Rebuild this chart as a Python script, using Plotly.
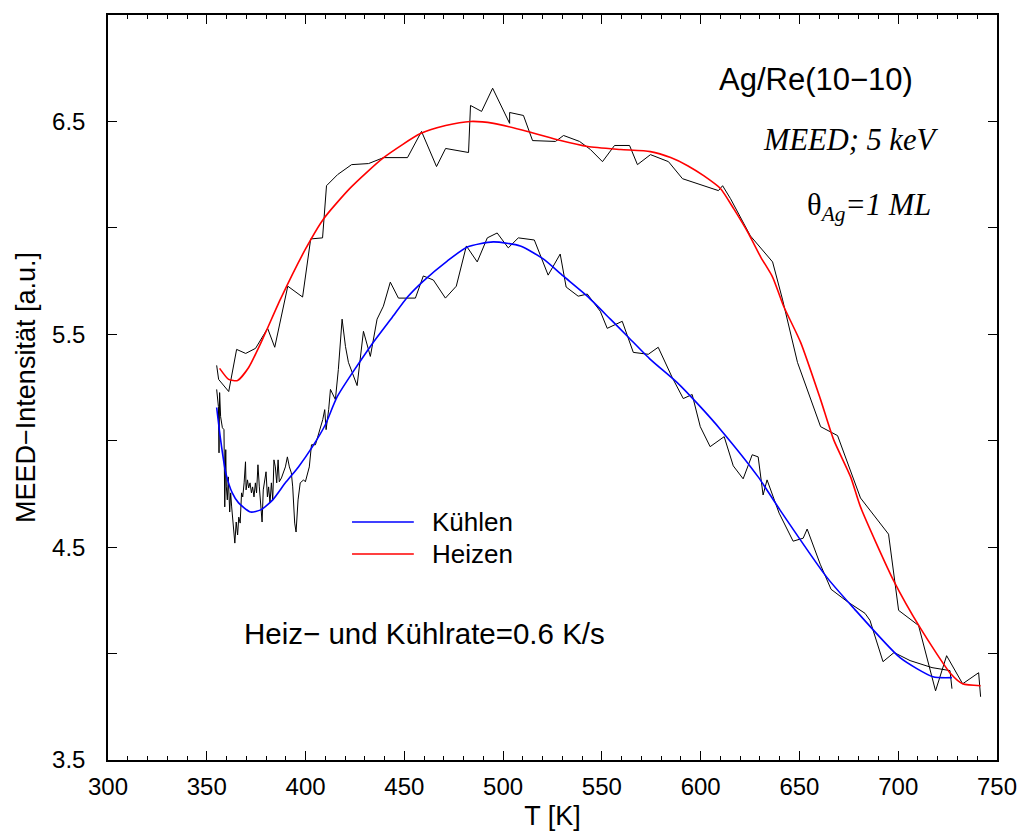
import plotly.graph_objects as go

# ---------------- data ----------------
# Heating run: measured MEED intensity
heat_T = [355.0, 356.0, 361.1, 365.1, 369.7, 374.7, 380.8, 384.4, 391.0, 398.5,
          402.6, 408.6, 410.6, 416.2, 423.3, 431.9, 439.5, 451.6, 458.7, 466.3,
          470.9, 482.5, 483.5, 489.1, 494.7, 503.3, 503.3, 510.3, 514.9, 526.5,
          530.6, 538.7, 544.2, 550.3, 556.4, 564.0, 568.0, 574.6, 583.7, 590.8,
          609.0, 611.1, 615.1, 625.2, 636.4, 641.4, 649.0, 660.7, 669.3, 680.9,
          695.1, 700.2, 710.3, 718.9, 724.5, 732.6, 740.7, 741.7]
heat_I = [5.354, 5.288, 5.231, 5.429, 5.410, 5.434, 5.528, 5.439, 5.726, 5.675,
          5.948, 5.953, 6.198, 6.250, 6.297, 6.302, 6.330, 6.330, 6.453, 6.288,
          6.373, 6.354, 6.575, 6.547, 6.656, 6.491, 6.542, 6.528, 6.410, 6.406,
          6.434, 6.406, 6.368, 6.311, 6.387, 6.387, 6.297, 6.344, 6.311, 6.231,
          6.175, 6.198, 6.137, 5.962, 5.840, 5.665, 5.368, 5.066, 5.024, 4.731,
          4.561, 4.203, 4.132, 3.825, 3.990, 3.858, 3.910, 3.797]

# Heating run: smooth fit
heat_fit_T = [356.5, 361.1, 365.6, 371.2, 378.2, 387.3, 400.0, 409.1, 422.8, 439.5,
              458.2, 470.9, 483.5, 495.2, 512.4, 529.1, 542.8, 559.5, 574.6, 584.8,
              593.4, 601.5, 610.1, 616.7, 624.3, 630.4, 636.4, 642.0, 650.6, 660.7,
              667.3, 675.9, 680.9, 697.6, 711.3, 726.5, 732.6, 741.7]
heat_fit_I = [5.340, 5.288, 5.283, 5.344, 5.476, 5.665, 5.901, 6.042, 6.189, 6.330,
              6.443, 6.481, 6.500, 6.491, 6.453, 6.410, 6.382, 6.368, 6.358, 6.330,
              6.292, 6.245, 6.184, 6.090, 5.972, 5.863, 5.769, 5.632, 5.462, 5.193,
              5.005, 4.830, 4.689, 4.344, 4.118, 3.906, 3.858, 3.849]

# Cooling run: measured MEED intensity
cool_T = [355.0, 355.9, 356.2, 356.5, 357.0, 357.9, 358.7, 359.1, 359.6, 359.9,
          360.4, 360.9, 361.6, 362.1, 362.6, 363.2, 363.7, 364.2, 364.9, 365.6,
          366.2, 366.9, 367.6, 368.2, 368.9, 369.6, 369.9, 370.6, 371.2, 371.9,
          372.6, 373.2, 373.9, 374.6, 375.2, 375.9, 376.6, 377.3, 378.0, 378.6,
          379.3, 380.0, 380.7, 381.3, 382.0, 382.7, 383.4, 384.0, 384.7, 385.4,
          386.1, 386.7, 387.8, 388.9, 389.8, 390.8, 391.8, 392.8, 393.5, 394.5,
          395.2, 396.2, 397.3, 399.0, 399.9, 401.9, 403.0, 405.0, 406.4, 407.5,
          408.7, 409.7, 410.4, 411.7, 412.6, 415.1, 416.6, 418.5, 420.2, 421.7,
          426.1, 429.3, 432.8, 436.2, 439.4, 442.9, 447.0, 455.6, 459.6, 464.7,
          470.8, 476.3, 481.4, 486.9, 492.0, 497.0, 502.6, 507.7, 515.8, 522.8,
          528.9, 531.9, 538.0, 542.6, 549.2, 552.7, 560.3, 565.9, 573.5, 578.5,
          585.6, 591.2, 595.7, 599.8, 604.8, 611.9, 616.5, 621.5, 626.1, 629.1,
          631.6, 633.6, 639.7, 646.8, 651.9, 653.9, 660.5, 666.0, 674.1, 683.2,
          685.7, 692.3, 697.9, 706.0, 717.1, 726.2, 727.2]
cool_I = [5.241, 5.160, 4.943, 5.226, 5.113, 5.061, 5.052, 4.689, 4.958, 4.783,
          4.722, 4.830, 4.665, 4.755, 4.689, 4.627, 4.566, 4.519, 4.618, 4.557,
          4.641, 4.613, 4.755, 4.736, 4.802, 4.901, 4.769, 4.816, 4.778, 4.802,
          4.755, 4.783, 4.736, 4.802, 4.755, 4.887, 4.783, 4.675, 4.618, 4.769,
          4.816, 4.854, 4.736, 4.783, 4.708, 4.802, 4.722, 4.910, 4.877, 4.802,
          4.910, 4.807, 4.825, 4.849, 4.877, 4.924, 4.877, 4.849, 4.783, 4.613,
          4.571, 4.722, 4.802, 4.816, 4.807, 4.877, 4.981, 4.981, 5.028, 5.066,
          5.099, 5.146, 5.052, 5.146, 5.241, 5.193, 5.335, 5.571, 5.443, 5.368,
          5.259, 5.514, 5.396, 5.571, 5.632, 5.745, 5.670, 5.670, 5.774, 5.755,
          5.670, 5.726, 5.915, 5.840, 5.953, 5.976, 5.906, 5.953, 5.943, 5.778,
          5.877, 5.722, 5.679, 5.689, 5.608, 5.528, 5.561, 5.415, 5.406, 5.439,
          5.297, 5.198, 5.217, 5.066, 4.972, 5.019, 4.882, 4.821, 4.934, 4.924,
          4.745, 4.816, 4.660, 4.528, 4.542, 4.585, 4.420, 4.302, 4.245, 4.189,
          4.156, 3.962, 4.005, 3.967, 3.934, 3.920, 3.835]

# Cooling run: smooth fit
cool_fit_T = [355.0, 357.0, 359.6, 362.9, 366.1, 372.2, 377.3, 383.4, 389.8, 396.4,
              403.5, 410.0, 416.1, 432.8, 443.9, 451.6, 459.6, 471.7, 481.9, 495.0,
              508.7, 520.3, 530.4, 542.6, 554.3, 562.9, 574.5, 588.0, 599.8, 610.1,
              629.1, 640.2, 663.9, 677.1, 700.9, 717.6, 727.2]
cool_fit_I = [5.156, 5.005, 4.849, 4.755, 4.708, 4.665, 4.675, 4.722, 4.802, 4.877,
              4.972, 5.075, 5.208, 5.443, 5.580, 5.675, 5.750, 5.844, 5.910, 5.934,
              5.915, 5.854, 5.774, 5.679, 5.571, 5.491, 5.382, 5.274, 5.160, 5.052,
              4.830, 4.674, 4.358, 4.217, 3.981, 3.891, 3.887]

x_tick_vals = [300, 350, 400, 450, 500, 550, 600, 650, 700, 750]
y_tick_vals = [3.5, 4.5, 5.5, 6.5]
y_tick_text = ["3.5", "4.5", "5.5", "6.5"]

SANS = "Liberation Sans, Arial, Helvetica, sans-serif"
SERIF = "Liberation Serif, Times New Roman, serif"

fig = go.Figure()
fig.add_trace(go.Scatter(x=heat_T, y=heat_I, mode="lines", name="Heizen (Messung)",
                         line=dict(color="black", width=1), showlegend=False))
fig.add_trace(go.Scatter(x=cool_T, y=cool_I, mode="lines", name="Kühlen (Messung)",
                         line=dict(color="black", width=1), showlegend=False))
fig.add_trace(go.Scatter(x=cool_fit_T, y=cool_fit_I, mode="lines", name="Kühlen",
                         line=dict(color="#0000ff", width=1.6, shape="spline", smoothing=0.6),
                         showlegend=False))
fig.add_trace(go.Scatter(x=heat_fit_T, y=heat_fit_I, mode="lines", name="Heizen",
                         line=dict(color="#ff0000", width=1.6, shape="spline", smoothing=0.6),
                         showlegend=False))

# Legend (drawn manually to match the long line samples)
legend_items = [("Kühlen", "#0000ff", 0.3195), ("Heizen", "#ff0000", 0.2765)]
for label, color, ypos in legend_items:
    fig.add_shape(type="line", xref="paper", yref="paper",
                  x0=0.2745, x1=0.344, y0=ypos, y1=ypos,
                  line=dict(color=color, width=1.6))
    fig.add_annotation(text=label, xref="paper", yref="paper", x=0.362, y=ypos,
                       xanchor="left", yanchor="middle", showarrow=False,
                       font=dict(family=SANS, size=26, color="black"))

fig.add_annotation(text="Ag/Re(10−10)", xref="paper", yref="paper", x=0.685, y=0.913,
                   xanchor="left", yanchor="middle", showarrow=False,
                   font=dict(family=SANS, size=31, color="black"))
fig.add_annotation(text="<i>MEED; 5 keV</i>", xref="paper", yref="paper", x=0.735, y=0.832,
                   xanchor="left", yanchor="middle", showarrow=False,
                   font=dict(family=SERIF, size=30.5, color="black"))
fig.add_annotation(text="θ<sub><i>Ag</i></sub><i>=1 ML</i>", xref="paper", yref="paper",
                   x=0.784, y=0.742, xanchor="left", yanchor="middle", showarrow=False,
                   font=dict(family=SERIF, size=30.5, color="black"))
fig.add_annotation(text="Heiz− und Kühlrate=0.6 K/s", xref="paper", yref="paper",
                   x=0.151, y=0.170, xanchor="left", yanchor="middle", showarrow=False,
                   font=dict(family=SANS, size=29.5, color="black"))

fig.update_layout(
    width=1024, height=831,
    margin=dict(l=108, r=27, t=15, b=71),
    paper_bgcolor="white", plot_bgcolor="white",
    font=dict(family=SANS, size=24, color="black"),
    showlegend=False,
)
fig.update_xaxes(
    range=[300, 750], tickvals=x_tick_vals, ticks="inside", ticklen=9, tickwidth=1,
    tickcolor="black", showline=True, linecolor="black", linewidth=1.5, mirror="ticks",
    showgrid=False, zeroline=False, tickfont=dict(family=SANS, size=24),
    minor=dict(dtick=10, tick0=300, ticks="inside", ticklen=4, tickwidth=1, tickcolor="black",
               showgrid=False),
    title=dict(text="T [K]", font=dict(family=SANS, size=27), standoff=11),
    ticklabelstandoff=4, automargin=False,
)
fig.update_yaxes(
    range=[3.5, 7.0], tickvals=y_tick_vals, ticktext=y_tick_text, ticks="inside",
    ticklen=9, tickwidth=1, tickcolor="black", showline=True, linecolor="black",
    linewidth=1.5, mirror="ticks", showgrid=False, zeroline=False,
    tickfont=dict(family=SANS, size=24),
    minor=dict(dtick=0.5, tick0=3.5, ticks="inside", ticklen=9, tickwidth=1,
               tickcolor="black", showgrid=False),
    title=dict(text="MEED−Intensität [a.u.]", font=dict(family=SANS, size=27), standoff=9),
    ticklabelstandoff=16, automargin=False,
)

fig.write_html("out.html")
